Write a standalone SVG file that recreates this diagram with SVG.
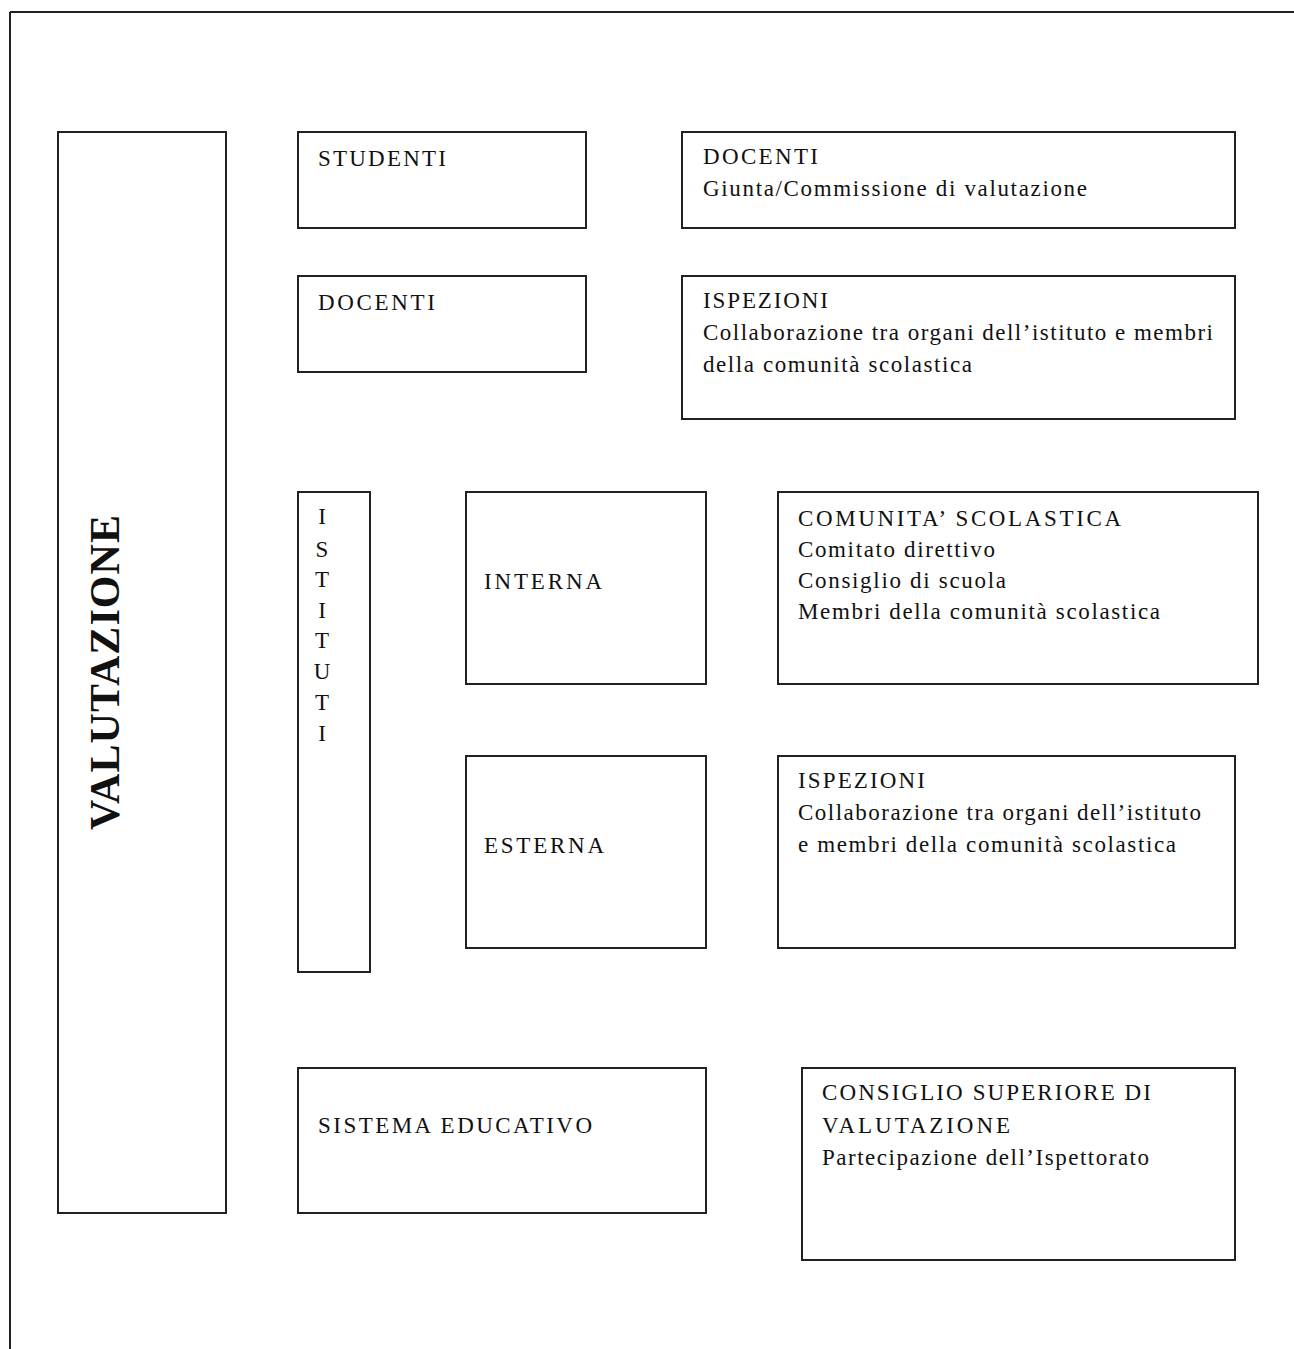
<svg xmlns="http://www.w3.org/2000/svg" width="1294" height="1349" viewBox="0 0 1294 1349">
<style>
.box{fill:#fff;stroke:#222;stroke-width:2}
.t{font-family:"Liberation Serif","Times New Roman",serif;font-size:23px;fill:#111}
.big{font-family:"Liberation Serif","Times New Roman",serif;font-size:42px;font-weight:bold;fill:#111}
</style>
<rect x="0" y="0" width="1294" height="1349" fill="#fff"/>
<g id="frame" stroke="#222" stroke-width="2" fill="none">
<line x1="10" y1="12" x2="1294" y2="12"/>
<line x1="10" y1="12" x2="10" y2="1349"/>
</g>
<g id="connectors"></g>
<g id="valutazione">
<rect class="box" x="58" y="132" width="168" height="1081"/>
<text class="big" transform="translate(119,830) rotate(-90)" textLength="315" lengthAdjust="spacing">VALUTAZIONE</text>
</g>
<g id="studenti">
<rect class="box" x="298" y="132" width="288" height="96"/>
<text class="t" x="318" y="166" textLength="128" lengthAdjust="spacing">STUDENTI</text>
</g>
<g id="docenti-giunta">
<rect class="box" x="682" y="132" width="553" height="96"/>
<text class="t" x="703" y="164" textLength="115" lengthAdjust="spacing">DOCENTI</text>
<text class="t" x="703" y="196" textLength="384" lengthAdjust="spacing">Giunta/Commissione di valutazione</text>
</g>
<g id="docenti">
<rect class="box" x="298" y="276" width="288" height="96"/>
<text class="t" x="318" y="310" textLength="117" lengthAdjust="spacing">DOCENTI</text>
</g>
<g id="ispezioni-docenti">
<rect class="box" x="682" y="276" width="553" height="143"/>
<text class="t" x="703" y="308" textLength="125" lengthAdjust="spacing">ISPEZIONI</text>
<text class="t" x="703" y="340" textLength="510" lengthAdjust="spacing">Collaborazione tra organi dell’istituto e membri</text>
<text class="t" x="703" y="372" textLength="269" lengthAdjust="spacing">della comunità scolastica</text>
</g>
<g id="istituti">
<rect class="box" x="298" y="492" width="72" height="480"/>
<g class="t" text-anchor="middle">
<text x="322" y="524">I</text>
<text x="322" y="557">S</text>
<text x="322" y="587">T</text>
<text x="322" y="618">I</text>
<text x="322" y="648">T</text>
<text x="322" y="679">U</text>
<text x="322" y="710">T</text>
<text x="322" y="741">I</text>
</g>
</g>
<g id="interna">
<rect class="box" x="466" y="492" width="240" height="192"/>
<text class="t" x="484" y="589" textLength="118" lengthAdjust="spacing">INTERNA</text>
</g>
<g id="comunita">
<rect class="box" x="778" y="492" width="480" height="192"/>
<text class="t" x="798" y="526" textLength="323" lengthAdjust="spacing">COMUNITA’ SCOLASTICA</text>
<text class="t" x="798" y="557" textLength="197" lengthAdjust="spacing">Comitato direttivo</text>
<text class="t" x="798" y="588" textLength="208" lengthAdjust="spacing">Consiglio di scuola</text>
<text class="t" x="798" y="619" textLength="362" lengthAdjust="spacing">Membri della comunità scolastica</text>
</g>
<g id="esterna">
<rect class="box" x="466" y="756" width="240" height="192"/>
<text class="t" x="484" y="853" textLength="120" lengthAdjust="spacing">ESTERNA</text>
</g>
<g id="ispezioni-istituti">
<rect class="box" x="778" y="756" width="457" height="192"/>
<text class="t" x="798" y="788" textLength="127" lengthAdjust="spacing">ISPEZIONI</text>
<text class="t" x="798" y="820" textLength="403" lengthAdjust="spacing">Collaborazione tra organi dell’istituto</text>
<text class="t" x="798" y="852" textLength="378" lengthAdjust="spacing">e membri della comunità scolastica</text>
</g>
<g id="sistema">
<rect class="box" x="298" y="1068" width="408" height="145"/>
<text class="t" x="318" y="1133" textLength="274" lengthAdjust="spacing">SISTEMA EDUCATIVO</text>
</g>
<g id="consiglio">
<rect class="box" x="802" y="1068" width="433" height="192"/>
<text class="t" x="822" y="1100" textLength="329" lengthAdjust="spacing">CONSIGLIO SUPERIORE DI</text>
<text class="t" x="822" y="1133" textLength="188" lengthAdjust="spacing">VALUTAZIONE</text>
<text class="t" x="822" y="1165" textLength="327" lengthAdjust="spacing">Partecipazione dell’Ispettorato</text>
</g>
</svg>
